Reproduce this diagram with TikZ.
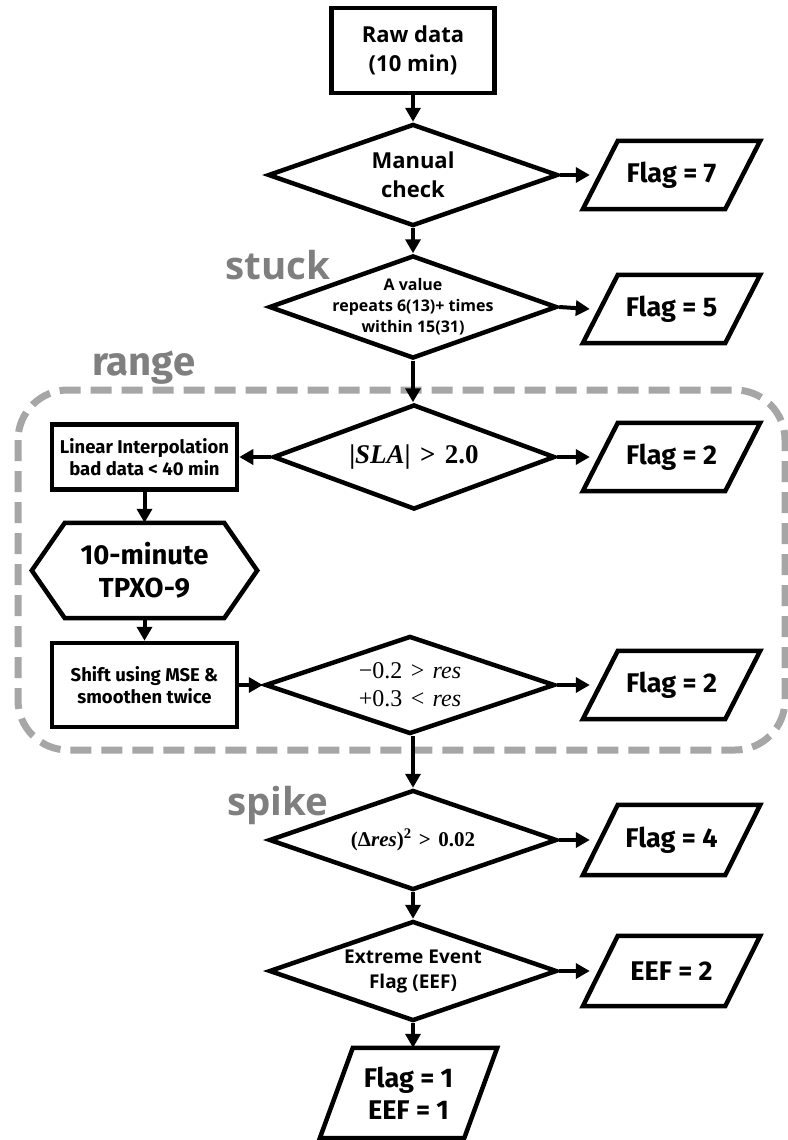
\documentclass[tikz,border=0pt]{standalone}
\usepackage{fontspec}
\setmainfont{Open Sans}
\newfontfamily\firafont{Fira Sans}
\newfontfamily\mathfont{Liberation Serif}
\usetikzlibrary{shapes.geometric,arrows.meta,calc}
\definecolor{lblgray}{HTML}{7F7F7F}
\definecolor{boxgray}{HTML}{A6A6A6}
\newcommand\relsp{\hspace{0.35em}}
\tikzset{
  shapeline/.style={draw=black,line width=4.5pt,line join=miter},
  dec/.style={diamond,shapeline,inner sep=0pt},
  procbox/.style={rectangle,shapeline,inner sep=0pt,align=center},
  ghost/.style={rectangle,inner sep=0pt,align=center},
  arr/.style={line width=4pt,-{Triangle[length=14pt,width=15pt]}},
  flagtxt/.style={font=\firafont\bfseries\fontsize{27}{32}\selectfont},
  condtxt/.style={font=\firafont\bfseries\fontsize{18.5}{22}\selectfont},
  dtxt/.style={font=\bfseries\fontsize{22}{29}\selectfont,align=center},
  lbl/.style={text=lblgray,font=\bfseries\fontsize{38.5}{42}\selectfont,inner sep=0pt},
  dashbox/.style={draw=boxgray,line width=7pt,dash pattern=on 21pt off 10pt,rounded corners=50pt},
}
\newcommand\drawpara[2]{%
  \draw[shapeline] ([xshift=#2]#1.north west) -- (#1.north east) -- ([xshift=-#2]#1.south east) -- (#1.south west) -- cycle;}
\begin{document}
\begin{tikzpicture}[x=1pt,y=-1pt]
\fill[white] (0,0) rectangle (787,1140);
\useasboundingbox (0,0) rectangle (787,1140);

% range group
\draw[dashbox] (18,390) rectangle (785,750);

% labels
\node[lbl,anchor=base west] (stucklbl) at (225,279) {stuck};
\node[lbl,anchor=base west,font=\firafont\bfseries\fontsize{40}{44}\selectfont] (rangelbl) at (92,375) {range};
\node[lbl,anchor=base west] (spikelbl) at (227,815) {spike};

% main column
\node[procbox,minimum width=163pt,minimum height=85pt,font=\bfseries\fontsize{22}{29}\selectfont] (raw) at (413,50.5) {Raw data\\(10 min)};
\node[dec,minimum width=290pt,minimum height=102pt,label={[dtxt]center:{Manual\\check}}] (manual) at (413,175) {};
\node[dec,minimum width=288pt,minimum height=103pt,label={[font=\bfseries\fontsize{16}{21}\selectfont,align=center]center:{A value\\repeats 6(13)+ times\\within 15(31)}}] (stuck) at (413,307) {};
\node[dec,minimum width=282pt,minimum height=105pt,label={[font=\mathfont\bfseries\fontsize{27}{30}\selectfont]center:{|\textit{SLA}|\relsp>\relsp2.0}}] (sla) at (414,457) {};
\node[dec,minimum width=290pt,minimum height=98pt,label={[font=\mathfont\fontsize{24}{28}\selectfont,align=center]center:{−0.2\relsp>\relsp\textit{res}\\+0.3\relsp<\relsp\textit{res}}}] (res) at (410,685) {};
\node[dec,minimum width=288pt,minimum height=100pt,label={[font=\mathfont\bfseries\fontsize{21}{24}\selectfont]center:{(Δ\textit{res})\textsuperscript{2}\relsp>\relsp0.02}}] (spike) at (413,840) {};
\node[dec,minimum width=288pt,minimum height=100pt,label={[font=\bfseries\fontsize{19}{25}\selectfont,align=center]center:{Extreme Event\\Flag (EEF)}}] (eef) at (413,971) {};

% output parallelograms
\node[ghost,flagtxt,minimum width=177pt,minimum height=68pt] (f7) at (671.5,175) {Flag = 7};
\drawpara{f7}{35pt}
\node[ghost,flagtxt,minimum width=177pt,minimum height=68pt] (f5) at (671.5,309) {Flag = 5};
\drawpara{f5}{35pt}
\node[ghost,flagtxt,minimum width=177pt,minimum height=68pt] (f2a) at (671.5,457) {Flag = 2};
\drawpara{f2a}{35pt}
\node[ghost,flagtxt,minimum width=177pt,minimum height=68pt] (f2b) at (671.5,685) {Flag = 2};
\drawpara{f2b}{35pt}
\node[ghost,flagtxt,minimum width=177pt,minimum height=70pt] (f4) at (671.5,840) {Flag = 4};
\drawpara{f4}{35pt}
\node[ghost,flagtxt,minimum width=177pt,minimum height=70pt] (eef2) at (671.5,971) {EEF = 2};
\drawpara{eef2}{35pt}
\node[ghost,flagtxt,minimum width=177pt,minimum height=90pt] (final) at (408.5,1093) {Flag = 1\\EEF = 1};
\drawpara{final}{33pt}

% left column
\node[procbox,condtxt,minimum width=185pt,minimum height=65pt] (lin) at (144.5,457) {Linear Interpolation\\bad data < 40 min};
\node[ghost,font=\firafont\bfseries\fontsize{27.5}{33}\selectfont,minimum width=225pt,minimum height=95pt] (hex) at (144.5,570.5) {10-minute\\TPXO-9};
\draw[shapeline] (hex.west) -- ([xshift=33pt]hex.north west) -- ([xshift=-33pt]hex.north east) -- (hex.east) -- ([xshift=-33pt]hex.south east) -- ([xshift=33pt]hex.south west) -- cycle;
\node[procbox,condtxt,minimum width=185pt,minimum height=84pt] (shift) at (144.5,685) {Shift using MSE \&\\smoothen twice};

% connectors
\draw[arr] (raw.south) -- (manual.north);
\draw[arr] (manual.east) -- ([xshift=7pt]f7.west);
\draw[arr] (manual.south) -- (stuck.north);
\draw[arr] (stuck.east) -- ([xshift=7pt]f5.west);
\draw[arr] (stuck.south) -- (stuck.south |- sla.north);
\draw[arr] (sla.east) -- ([xshift=7pt]f2a.west);
\draw[arr] (sla.west) -- (lin.east);
\draw[arr] (lin.south) -- (hex.north);
\draw[arr] (hex.south) -- (shift.north);
\draw[arr] (shift.east) -- (res.west);
\draw[arr] (res.east) -- ([xshift=7pt]f2b.west);
\draw[arr] (res.south -| spike.north) -- (spike.north);
\draw[arr] (spike.east) -- ([xshift=7pt]f4.west);
\draw[arr] (spike.south) -- (eef.north);
\draw[arr] (eef.east) -- ([xshift=7pt]eef2.west);
\draw[arr] (eef.south) -- (eef.south |- final.north);
\end{tikzpicture}
\end{document}
